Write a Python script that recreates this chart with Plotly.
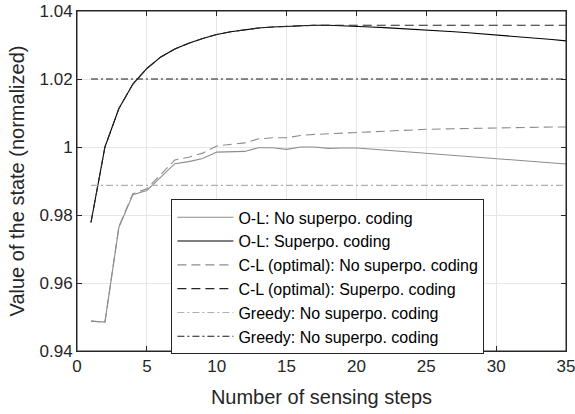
import plotly.graph_objects as go

steps = list(range(1, 36))

ol_no_superpo = [0.9488, 0.9485, 0.9764, 0.9860, 0.9872, 0.9911, 0.9951, 0.9957, 0.9966, 0.9985,
                 0.9987, 0.9987, 0.9998, 0.9998, 0.9993, 1.0000, 1.0000, 0.9996, 0.9997, 0.9997,
                 0.9994, 0.9991, 0.9988, 0.9985, 0.9982, 0.9979, 0.9976, 0.9973, 0.9970, 0.9967,
                 0.9964, 0.9961, 0.9958, 0.9954, 0.9950]

ol_superpo = [0.9778, 1.0000, 1.0113, 1.0185, 1.0231, 1.0265, 1.0288, 1.0305, 1.0319, 1.0331,
              1.0339, 1.0345, 1.0350, 1.0353, 1.0355, 1.0357, 1.0358, 1.0358, 1.0357, 1.0355,
              1.0353, 1.0351, 1.0349, 1.0347, 1.0345, 1.0342, 1.0339, 1.0336, 1.0333, 1.0330,
              1.0327, 1.0323, 1.0320, 1.0316, 1.0312]

cl_no_superpo = [0.9488, 0.9485, 0.9766, 0.9863, 0.9877, 0.9918, 0.9962, 0.9970, 0.9982, 1.0003,
                 1.0008, 1.0012, 1.0024, 1.0027, 1.0027, 1.0034, 1.0037, 1.0039, 1.0041, 1.0044,
                 1.0046, 1.0047, 1.0049, 1.0050, 1.0052, 1.0053, 1.0054, 1.0055, 1.0056, 1.0057,
                 1.0057, 1.0058, 1.0058, 1.0059, 1.0059]

cl_superpo = [0.9778, 1.0000, 1.0113, 1.0185, 1.0231, 1.0265, 1.0288, 1.0305, 1.0319, 1.0331,
              1.0339, 1.0345, 1.0350, 1.0353, 1.0355, 1.0357, 1.0358, 1.0358, 1.0358, 1.0358,
              1.0358, 1.0358, 1.0358, 1.0358, 1.0358, 1.0358, 1.0358, 1.0358, 1.0358, 1.0358,
              1.0358, 1.0358, 1.0358, 1.0358, 1.0358]

greedy_no_superpo = [0.9887] * 35
greedy_superpo = [1.0200] * 35

x_ticks = [0, 5, 10, 15, 20, 25, 30, 35]
y_ticks = [0.94, 0.96, 0.98, 1.00, 1.02, 1.04]
y_tick_labels = ["0.94", "0.96", "0.98", "1", "1.02", "1.04"]

series = [
    ("O-L: No superpo. coding", ol_no_superpo, "#8c8c8c", "solid"),
    ("O-L: Superpo. coding", ol_superpo, "#000000", "solid"),
    ("C-L (optimal): No superpo. coding", cl_no_superpo, "#8c8c8c", "9px,5px"),
    ("C-L (optimal): Superpo. coding", cl_superpo, "#262626", "9px,5px"),
    ("Greedy: No superpo. coding", greedy_no_superpo, "#b0b0b0", "7px,3px,2px,3px"),
    ("Greedy: No superpo. coding", greedy_superpo, "#1a1a1a", "7px,3px,2px,3px"),
]

fig = go.Figure()
for name, vals, color, dash in series:
    fig.add_trace(go.Scatter(x=steps, y=vals, mode="lines", name=name,
                             line=dict(color=color, width=1.1, dash=dash)))

font_family = "Liberation Sans, Arial, sans-serif"
axis_common = dict(
    showline=True, linecolor="#262626", linewidth=1, mirror="ticks",
    ticks="inside", ticklen=5, tickcolor="#262626",
    showgrid=True, gridcolor="#e6e6e6", gridwidth=1, zeroline=False,
    automargin=False, ticklabeloverflow="allow",
    tickfont=dict(size=17, color="#262626", family=font_family),
)

fig.update_layout(
    width=575, height=414,
    margin=dict(l=77, r=9, t=11, b=63),
    paper_bgcolor="white", plot_bgcolor="white",
    font=dict(family=font_family, color="#262626"),
    xaxis=dict(range=[0, 35], tickvals=x_ticks,
               title=dict(text="Number of sensing steps", font=dict(size=20), standoff=14),
               **axis_common),
    yaxis=dict(range=[0.94, 1.04], tickvals=y_ticks, ticktext=y_tick_labels,
               title=dict(text="Value of the state (normalized)", font=dict(size=20), standoff=9),
               **axis_common),
    legend=dict(x=0.193, y=0.446, xanchor="left", yanchor="top",
                bgcolor="white", bordercolor="#262626", borderwidth=1,
                font=dict(size=16, color="#000000", family=font_family),
                itemwidth=56, tracegroupgap=0),
    showlegend=True,
    shapes=[dict(type="rect", xref="paper", yref="paper", x0=0, y0=0, x1=1, y1=1,
                 line=dict(color="#262626", width=1), fillcolor="rgba(0,0,0,0)",
                 layer="above")],
)

# remove the browser's default body margin so the figure fills the window exactly
fig.write_html("out.html",
               config={"displayModeBar": False},
               post_script="document.body.style.margin='0';document.body.style.overflow='hidden';")
